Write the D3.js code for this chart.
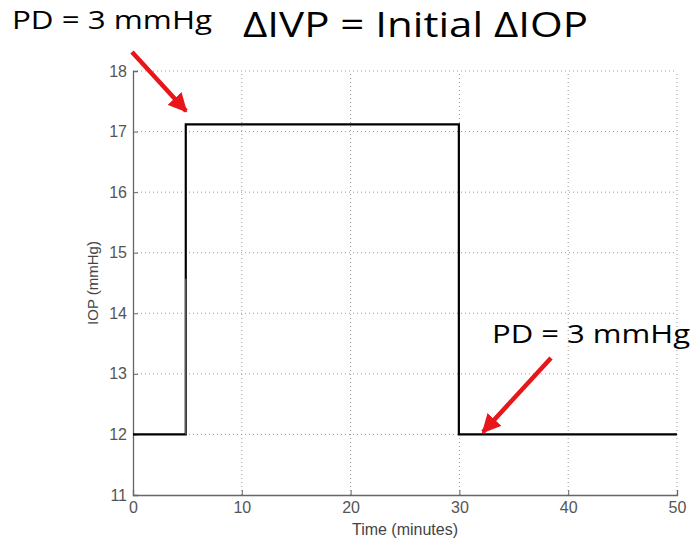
<!DOCTYPE html>
<html><head><meta charset="utf-8">
<script src="https://cdn.jsdelivr.net/npm/d3@7"></script>
<style>body{margin:0;background:#fff}svg{display:block}</style>
</head><body><svg id="c" width="693" height="543"></svg>
<script>
const xTicks = [0,10,20,30,40,50];
const yTicks = [11,12,13,14,15,16,17,18];
const iopX = [0, 4.85, 4.85, 29.95, 29.95, 50];
const iopY = [12, 12, 17.12, 17.12, 12, 12];
const thinX = [4.85, 4.85];
const thinY = [12, 14.57];
const title = "ΔIVP = Initial ΔIOP";
const note = "PD = 3 mmHg";
const xLabel = "Time (minutes)";
const yLabel = "IOP (mmHg)";

const svg = d3.select("#c");
const m = {l:133, r:677, t:71, b:495};
const x = d3.scaleLinear().domain([0,50]).range([m.l, m.r]);
const y = d3.scaleLinear().domain([11,18]).range([m.b, m.t]);

// grid
const g = svg.append("g");
g.selectAll(".gx").data(xTicks.filter(d=>d>0)).join("line")
  .attr("x1",d=>x(d)).attr("x2",d=>x(d)).attr("y1",y(11)).attr("y2",y(18))
  .attr("stroke","#999").attr("stroke-width",1).attr("stroke-dasharray","1,3");
g.selectAll(".gy").data(yTicks.filter(d=>d>11)).join("line")
  .attr("y1",d=>y(d)).attr("y2",d=>y(d)).attr("x1",x(0)).attr("x2",x(50))
  .attr("stroke","#999").attr("stroke-width",1).attr("stroke-dasharray","1,3");

// axes
const af = "Liberation Sans, Arial, sans-serif";
const xa = svg.append("g").attr("transform",`translate(0,${m.b})`)
  .call(d3.axisBottom(x).tickValues(xTicks).tickSize(-5).tickPadding(7).tickFormat(d3.format("d")));
const ya = svg.append("g").attr("transform",`translate(${m.l},0)`)
  .call(d3.axisLeft(y).tickValues(yTicks).tickSize(-5).tickPadding(6).tickFormat(d3.format("d")));
[xa,ya].forEach(a=>{
  a.select(".domain").attr("stroke","#666").attr("stroke-width",1.3);
  a.selectAll(".tick line").attr("stroke","#666");
  a.selectAll("text").attr("fill","#555").attr("font-family",af).attr("font-size",16);
});

// line
const line = d3.line().x(d=>x(d[0])).y(d=>y(d[1]));
svg.append("path").datum(iopX.map((v,i)=>[v,iopY[i]]))
  .attr("d",line).attr("fill","none").attr("stroke","#000").attr("stroke-width",2.2);
svg.append("path").datum(thinX.map((v,i)=>[v,thinY[i]]))
  .attr("d",line).attr("fill","none").attr("stroke","#fff").attr("stroke-width",0.8).attr("opacity",0.6);

// labels
svg.append("text").attr("x",(m.l+m.r)/2).attr("y",535).attr("text-anchor","middle")
  .attr("font-family",af).attr("font-size",16).attr("fill","#444").text(xLabel);
svg.append("text").attr("transform",`translate(98,${(m.t+m.b)/2}) rotate(-90)`).attr("text-anchor","middle")
  .attr("font-family",af).attr("font-size",15).attr("fill","#444").text(yLabel);

const ff = "Open Sans, Noto Sans, sans-serif";
svg.append("text").attr("x",243).attr("y",37).attr("font-family",ff).attr("font-size",34)
  .attr("textLength",345).attr("lengthAdjust","spacingAndGlyphs").attr("fill","#000").text(title);
svg.append("text").attr("x",12).attr("y",29).attr("font-family",ff).attr("font-size",25)
  .attr("textLength",200).attr("lengthAdjust","spacingAndGlyphs").attr("fill","#000").text(note);
svg.append("text").attr("x",492).attr("y",343).attr("font-family",ff).attr("font-size",25)
  .attr("textLength",198).attr("lengthAdjust","spacingAndGlyphs").attr("fill","#000").text(note);

// arrows
const defs = svg.append("defs");
defs.append("marker").attr("id","ah").attr("viewBox","0 0 10 10").attr("refX",9).attr("refY",5)
  .attr("markerWidth",4.2).attr("markerHeight",4.2).attr("orient","auto").attr("markerUnits","strokeWidth")
  .append("path").attr("d","M0,0 L10,5 L0,10 z").attr("fill","#e8161b");
function arrow(x1,y1,x2,y2){
  svg.append("line").attr("x1",x1).attr("y1",y1).attr("x2",x2).attr("y2",y2)
    .attr("stroke","#e8161b").attr("stroke-width",4.5).attr("marker-end","url(#ah)");
}
arrow(132,52,186,111);
arrow(551,358,483,432);
</script></body></html>
